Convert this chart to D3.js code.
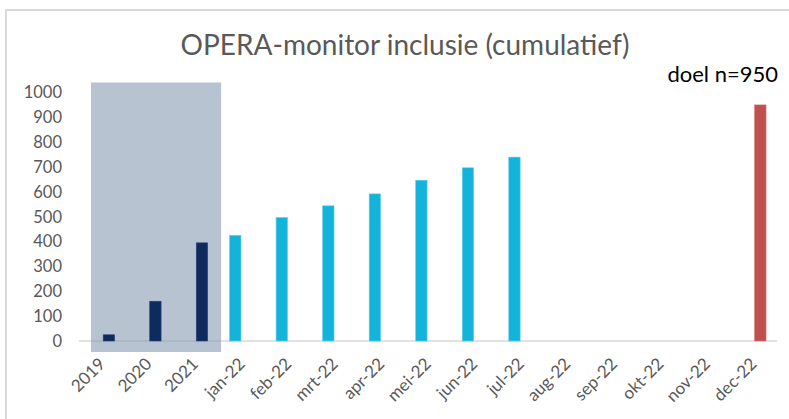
<!DOCTYPE html>
<html>
<head>
<meta charset="utf-8">
<script src="https://cdn.jsdelivr.net/npm/d3@7"></script>
<style>
  body { margin: 0; background: #fff; }
  svg { display: block; font-family: Lato, "Open Sans", sans-serif; }
</style>
</head>
<body>
<div id="chart"></div>
<script>
// categories on the x axis
var categories = ["2019", "2020", "2021", "jan-22", "feb-22", "mrt-22", "apr-22", "mei-22",
    "jun-22", "jul-22", "aug-22", "sep-22", "okt-22", "nov-22", "dec-22"];

// cumulative inclusions per year (dark bars)
var yearly = [
    { cat: "2019", value: 25 },
    { cat: "2020", value: 160 },
    { cat: "2021", value: 395 }
];

// cumulative inclusions per month in 2022 (light blue bars)
var monthly = [
    { cat: "jan-22", value: 425 },
    { cat: "feb-22", value: 497 },
    { cat: "mrt-22", value: 544 },
    { cat: "apr-22", value: 592 },
    { cat: "mei-22", value: 647 },
    { cat: "jun-22", value: 697 },
    { cat: "jul-22", value: 740 }
];

// target
var target = [{ cat: "dec-22", value: 950 }];

var yTicks = [0, 100, 200, 300, 400, 500, 600, 700, 800, 900, 1000];

var width = 789, height = 419;
var margin = { top: 92.5, right: 12, bottom: 78, left: 79 };

var svg = d3.select("#chart")
    .append("svg")
    .attr("width", width)
    .attr("height", height);

// outer frame (cut off at right and bottom like the picture)
svg.append("rect")
    .attr("x", 6)
    .attr("y", 10)
    .attr("width", 800)
    .attr("height", 420)
    .attr("fill", "none")
    .attr("stroke", "#d9d9d9")
    .attr("stroke-width", 2);

// title
svg.append("text")
    .attr("x", 405)
    .attr("y", 55)
    .attr("text-anchor", "middle")
    .style("font-size", "28px")
    .style("fill", "#595959")
    .text("OPERA-monitor inclusie (cumulatief)");

// scales
var x = d3.scaleBand()
    .domain(categories)
    .range([margin.left, width - margin.right]);

var xSub = d3.scaleBand()
    .domain(["maand", "jaar"])
    .range([0, x.bandwidth()])
    .paddingInner(0.14)
    .paddingOuter(0.83);

var y = d3.scaleLinear()
    .domain([0, 1000])
    .range([height - margin.bottom, margin.top]);

// y labels
svg.append("g")
    .attr("transform", "translate(" + (margin.left - 17) + ",0)")
    .call(d3.axisLeft(y).tickValues(yTicks).tickFormat(d3.format("d")).tickSize(0).tickPadding(0))
    .call(function (g) { g.select(".domain").remove(); })
    .selectAll("text")
    .style("font-family", "Lato, sans-serif")
    .style("font-size", "16.5px")
    .style("fill", "#595959");

// x axis line
svg.append("line")
    .attr("x1", x.range()[0])
    .attr("x2", x.range()[1])
    .attr("y1", y(0))
    .attr("y2", y(0))
    .attr("stroke", "#d9d9d9")
    .attr("stroke-width", 1.5);

// shaded block behind the yearly bars
svg.append("rect")
    .attr("x", x("2019") + 12)
    .attr("y", y.range()[1] - 10)
    .attr("width", x("2021") + x.bandwidth() + 2.5 - (x("2019") + 12))
    .attr("height", y(0) + 11 - (y.range()[1] - 10))
    .attr("fill", "rgb(132,151,176)")
    .attr("fill-opacity", 0.58);

// x labels, rotated
svg.append("g")
    .selectAll("text")
    .data(categories)
    .enter()
    .append("text")
    .attr("transform", function (d) {
        return "translate(" + (x(d) + x.bandwidth() / 2 + 4) + "," + (y(0) + 24) + ") rotate(-45)";
    })
    .attr("text-anchor", "end")
    .style("font-size", "17px")
    .style("fill", "#595959")
    .text(function (d) { return d; });

// bars
function drawBars(data, sub, color, stroke) {
    svg.append("g")
        .selectAll("rect")
        .data(data)
        .enter()
        .append("rect")
        .attr("x", function (d) { return x(d.cat) + xSub(sub); })
        .attr("y", function (d) { return y(d.value); })
        .attr("width", xSub.bandwidth())
        .attr("height", function (d) { return y(0) - y(d.value); })
        .attr("fill", color)
        .attr("stroke", stroke)
        .attr("stroke-width", 0.6);
}

drawBars(yearly, "jaar", "#0e2a5e", "#2a4370");
drawBars(monthly, "maand", "#14b4da", "#5fcdea");
drawBars(target, "jaar", "#c0504d", "#d27370");

// target label
svg.append("text")
    .attr("x", 778)
    .attr("y", 82)
    .attr("text-anchor", "end")
    .style("font-size", "22px")
    .style("fill", "#000")
    .text("doel n=950");
</script>
</body>
</html>
